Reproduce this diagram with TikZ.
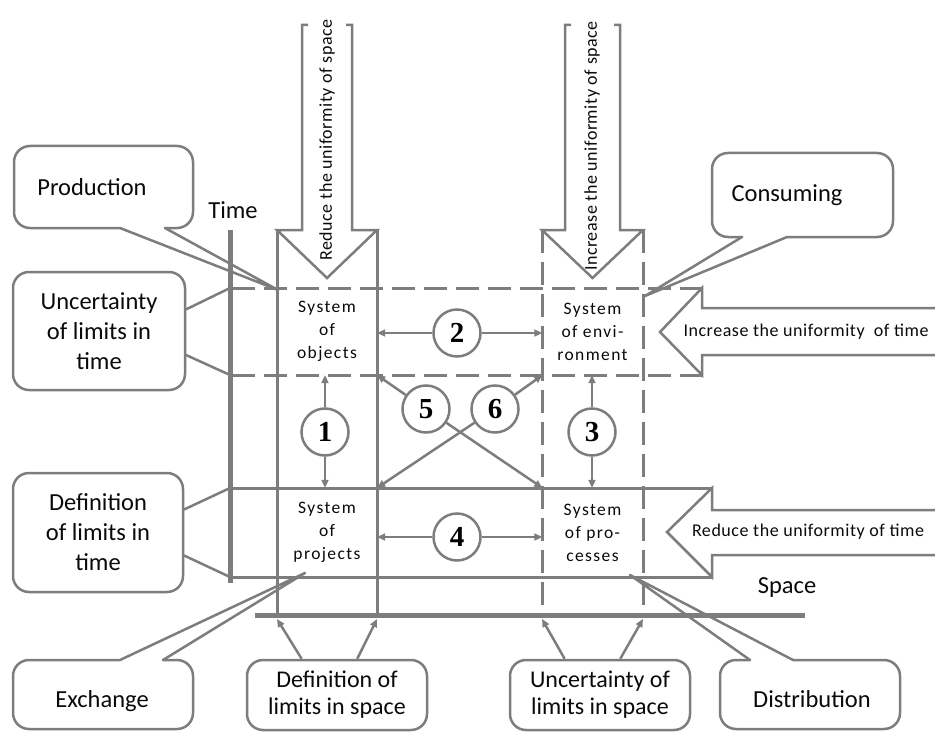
\documentclass[tikz,border=0pt]{standalone}
\usepackage{fontspec}
\setmainfont{Carlito}
\newfontfamily\numfont{Liberation Serif}
\newfontfamily\spfont{Carlito}[LetterSpace=3]
\newfontfamily\boxfont{Carlito}[LetterSpace=8]
\usetikzlibrary{arrows.meta,calc}
\definecolor{lc}{RGB}{125,125,125}
\definecolor{tc}{RGB}{10,10,10}
\tikzset{
  ln/.style={draw=lc, line width=3pt},
  dln/.style={draw=lc, line width=3pt, dash pattern=on 23pt off 9pt},
  axisline/.style={draw=lc, line width=5pt},
  co/.style={draw=lc, line width=2.5pt, line cap=round, line join=round},
  cbox/.style={draw=lc, line width=2.5pt, rounded corners=16pt, fill=white, text=tc, align=center, inner sep=0pt, font=\fontsize{24.5}{30}\selectfont},
  arr/.style={draw=lc, line width=2.5pt, -{Triangle[length=8pt,width=7pt]}},
  num/.style={circle, draw=lc, line width=2.5pt, fill=white, minimum size=47pt, inner sep=0pt, font=\numfont\bfseries\fontsize{29}{29}\selectfont},
  ct/.style={text=tc, align=center, inner sep=0pt, font=\fontsize{24.5}{30}\selectfont},
  sys/.style={text=tc, align=center, inner sep=0pt, minimum width=100pt, font=\boxfont\fontsize{17.5}{23}\selectfont},
  arrtext/.style={text=tc, inner sep=0pt, font=\spfont\fontsize{18}{20}\selectfont},
}
\begin{document}
\begin{tikzpicture}[x=1pt,y=-1pt]
\useasboundingbox (0,0) rectangle (935,733);

% band lines
\draw[dln] (232,288) -- (702,288);
\draw[dln] (232,375) -- (702,375);
\draw[ln] (230,488) -- (712,488);
\draw[ln] (230,577) -- (712,577);
% column lines
\draw[ln] (277,230) -- (277,617);
\draw[ln] (377,230) -- (377,617);
\draw[dln] (542,230) -- (542,617);
\draw[dln] (643,230) -- (643,617);
% axes
\draw[axisline] (230,230) -- (230,583);
\draw[axisline] (255,615) -- (805,615);
\node[ct] (time) at (233,210) {Time};
\node[ct] (space) at (787,588) {Space};

% down arrows
\draw[ln, line width=2.5pt] (308,25) -- (302,25) -- (302,230) -- (277,230) -- (327,278) -- (377,230) -- (352,230) -- (352,25) -- (346,25);
\draw[ln, line width=2.5pt] (571,25) -- (565,25) -- (565,230) -- (542,230) -- (592.5,278) -- (643,230) -- (620,230) -- (620,25) -- (614,25);
\node[arrtext, rotate=90] (rs) at (327,140) {Reduce the uniformity of space};
\node[arrtext, rotate=90] (is) at (592,146) {Increase the uniformity of space};

% left arrows
\draw[ln, line width=2.5pt] (940,308) -- (702,308) -- (702,288) -- (660,332) -- (702,375) -- (702,355) -- (940,355);
\draw[ln, line width=2.5pt] (940,510) -- (712,510) -- (712,488) -- (667,532) -- (712,577) -- (712,555) -- (940,555);
\node[arrtext] (it) at (806,332) {Increase the uniformity\ \ of time};
\node[arrtext] (rt) at (808,532) {Reduce the uniformity of time};

% systems
\node[sys, minimum height=87pt] (obj) at (327,331.5) {System\\of\\objects};
\node[sys, minimum height=87pt] (env) at (592.5,331.5) {System\\of envi-\\ronment};
\node[sys, minimum height=89pt] (proj) at (327,532.5) {System\\of\\projects};
\node[sys, minimum height=89pt] (proc) at (592.5,532.5) {System\\of pro-\\cesses};

% numbered circles
\node[num] (c1) at (325,432) {1};
\node[num] (c2) at (457,333) {2};
\node[num] (c3) at (592,432) {3};
\node[num] (c4) at (457,537) {4};
\node[num] (c5) at (426,409) {5};
\node[num] (c6) at (495,409) {6};

\draw[arr] (c2.west) -- (obj.east |- c2.west);
\draw[arr] (c2.east) -- (env.west |- c2.east);
\draw[arr] (c4.west) -- (proj.east |- c4.west);
\draw[arr] (c4.east) -- (proc.west |- c4.east);
\draw[arr] (c1.north) -- (c1.north |- obj.south);
\draw[arr] (c1.south) -- (c1.south |- proj.north);
\draw[arr] (c3.north) -- (c3.north |- env.south);
\draw[arr] (c3.south) -- (c3.south |- proc.north);
\draw[arr] (c5) -- (obj.south east);
\draw[arr] (c5) -- (proc.north west);
\draw[arr] (c6) -- (env.south west);
\draw[arr] (c6) -- (proj.north east);

% callouts with pointers
\draw[co] (120,228) [rounded corners=16pt] -- (14,228) -- (14,146) -- (193,146) -- (193,228) -- (165,228);
\draw[co] (120,228) -- (278,290) -- (165,228);
\node[ct] (prod) at (92,187) {Production};

\draw[co] (742,237) [rounded corners=16pt] -- (712,237) -- (712,153) -- (893,153) -- (893,237) -- (787,237);
\draw[co] (742,237) -- (645,296) -- (787,237);
\node[ct] (cons) at (787,195) {Consuming};

\draw[co] (120,660) [rounded corners=16pt] -- (13,660) -- (13,729) -- (193,729) -- (193,660) -- (163,660);
\draw[co] (120,660) -- (305,573) -- (163,660);
\node[ct] (exch) at (102,701) {Exchange};

\draw[co] (750,660) [rounded corners=16pt] -- (720,660) -- (720,729) -- (900,729) -- (900,660) -- (793,660);
\draw[co] (750,660) -- (630,575) -- (793,660);
\node[ct] (dist) at (812,699) {Distribution};

% time callouts
\coordinate (t1) at (230,288);
\coordinate (t2) at (230,375);
\coordinate (t3) at (230,488);
\coordinate (t4) at (230,577);
\node[cbox, minimum width=172pt, minimum height=118pt] (ut) at (99,331) {Uncertainty\\of limits in\\time};
\node[cbox, minimum width=170pt, minimum height=119pt] (dt) at (98,532.5) {Definition\\of limits in\\time};
\draw[co] ($(ut.north east)!0.32!(ut.south east)$) -- (t1);
\draw[co] ($(ut.north east)!0.70!(ut.south east)$) -- (t2);
\draw[co] ($(dt.north east)!0.31!(dt.south east)$) -- (t3);
\draw[co] ($(dt.north east)!0.69!(dt.south east)$) -- (t4);

% space callouts
\coordinate (s1) at (277,619);
\coordinate (s2) at (377,619);
\coordinate (s3) at (542,619);
\coordinate (s4) at (643,619);
\node[cbox, minimum width=180pt, minimum height=70pt, font=\fontsize{24}{27}\selectfont] (ds) at (337,695) {Definition of\\limits in space};
\node[cbox, minimum width=180pt, minimum height=70pt, font=\fontsize{24}{27}\selectfont] (us) at (600,695) {Uncertainty of\\limits in space};
\draw[arr] ($(ds.north west)!0.306!(ds.north east)$) -- (s1);
\draw[arr] ($(ds.north west)!0.611!(ds.north east)$) -- (s2);
\draw[arr] ($(us.north west)!0.306!(us.north east)$) -- (s3);
\draw[arr] ($(us.north west)!0.611!(us.north east)$) -- (s4);
\end{tikzpicture}
\end{document}
